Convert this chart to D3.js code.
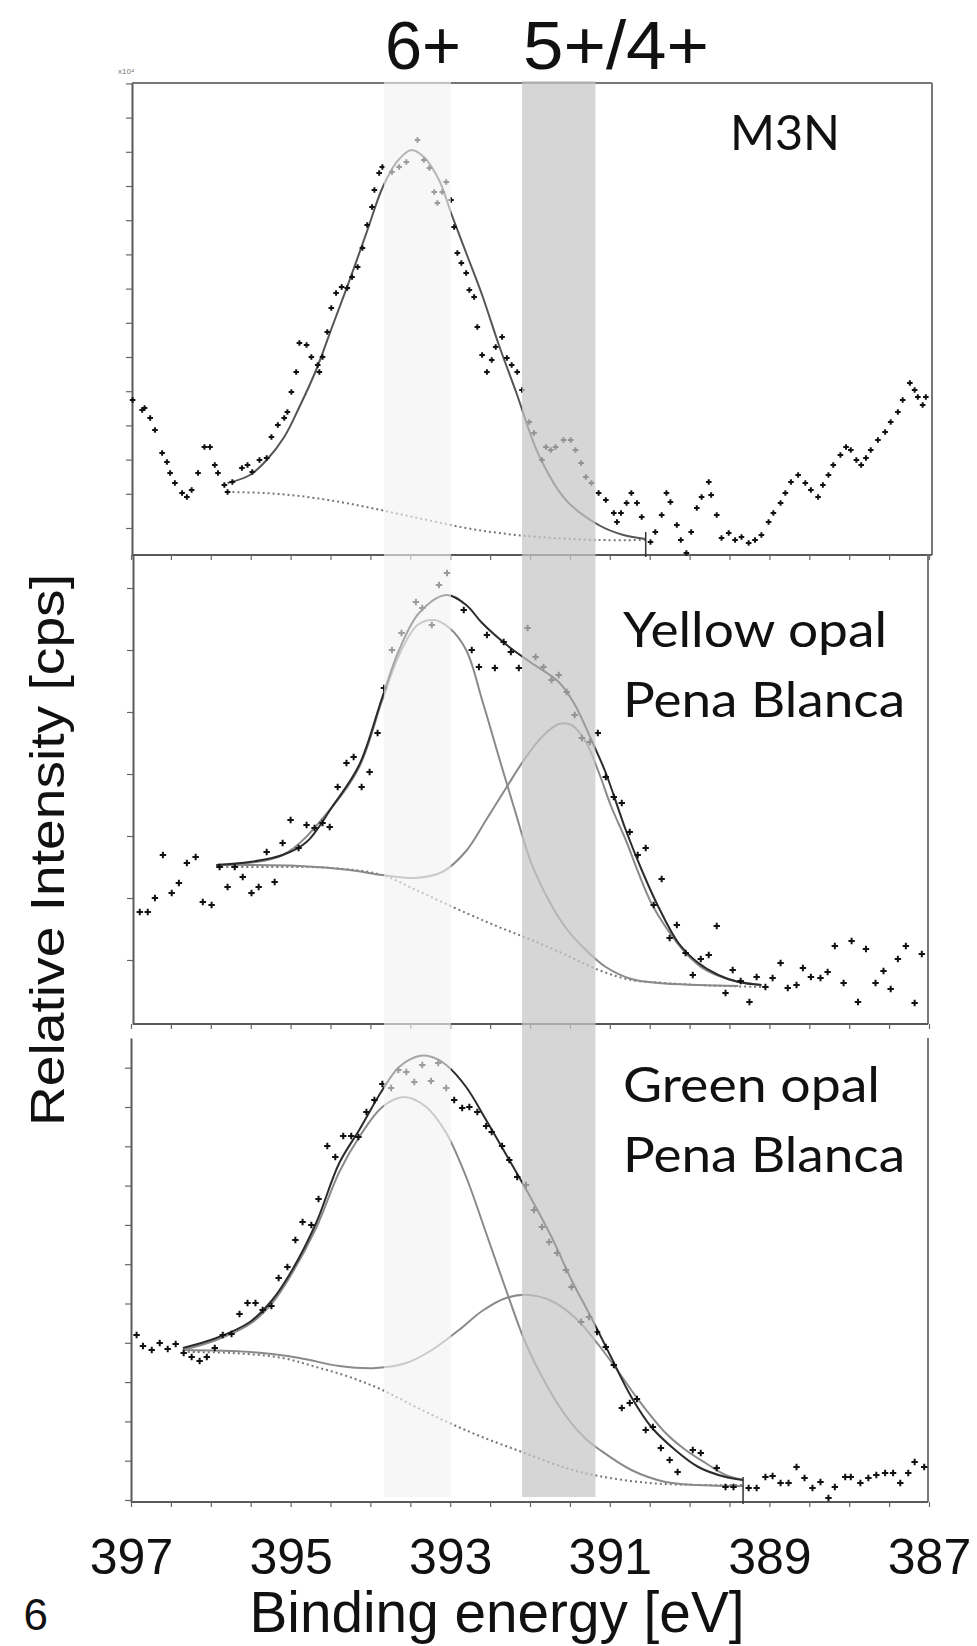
<!DOCTYPE html>
<html>
<head>
<meta charset="utf-8">
<script src="https://cdn.jsdelivr.net/npm/d3@7"></script>
<style>
  html, body { margin: 0; padding: 0; background: #fff; }
  svg { display: block; }
</style>
</head>
<body>
<svg id="chart" width="977" height="1646"></svg>
<script>
;(function() {
  'use strict';

  // ---- Data (binding energy in eV, intensity in arbitrary units x100 cps) ----

  var xTickLabels = [397, 395, 393, 391, 389, 387];

  // Shaded oxidation-state windows [from, to] in eV.
  var bandNames = ['6+', '5+/4+'];
  var bandRanges = [[393.83, 392.99], [392.10, 391.18]];

  var m3nLabel = ['M3N'];
  var yellowLabel = ['Yellow opal', 'Pena Blanca'];
  var greenLabel = ['Green opal', 'Pena Blanca'];

  var m3nPoints = [
    [396.98,15.5],[396.86,14.5],[396.83,14.7],[396.76,13.7],[396.70,12.5],[396.61,10.2],[396.55,9.3],[396.51,8.2],
    [396.45,7.2],[396.36,6.2],[396.30,5.8],[396.24,6.5],[396.16,8.2],[396.08,10.8],[396.01,10.8],[395.95,9.0],
    [395.91,8.2],[395.83,7.0],[395.79,6.3],[395.73,7.3],[395.61,8.7],[395.54,9.0],[395.48,8.3],[395.39,9.5],
    [395.30,9.7],[395.24,11.8],[395.16,13.0],[395.08,13.7],[395.04,14.3],[394.99,16.3],[394.93,18.3],[394.89,21.2],
    [394.80,21.0],[394.74,19.8],[394.66,19.0],[394.64,18.3],[394.60,19.8],[394.54,22.3],[394.49,24.7],[394.43,26.2],
    [394.36,26.8],[394.29,26.7],[394.23,27.8],[394.16,28.8],[394.10,30.7],[394.04,33.0],[393.98,34.8],[393.95,36.5],
    [393.89,38.2],[393.85,38.8],[393.73,38.3],[393.64,38.8],[393.55,39.3],[393.41,41.5],[393.33,39.5],[393.26,38.7],
    [393.20,36.3],[393.16,35.2],[393.10,36.3],[393.05,37.3],[392.99,35.5],[392.95,32.8],[392.91,30.2],[392.86,29.2],
    [392.80,28.2],[392.76,26.5],[392.70,25.8],[392.66,22.8],[392.60,20.0],[392.54,18.3],[392.48,19.5],[392.43,20.8],
    [392.35,21.8],[392.29,19.7],[392.23,19.0],[392.16,18.3],[392.10,16.5],[392.01,13.3],[391.95,12.2],[391.85,9.5],
    [391.80,10.8],[391.74,10.5],[391.68,10.8],[391.58,11.5],[391.49,11.5],[391.43,10.5],[391.36,9.2],[391.30,7.8],
    [391.23,7.2],[391.14,6.2],[391.05,5.5],[390.95,4.2],[390.91,3.3],[390.86,4.2],[390.79,5.2],[390.73,6.2],
    [390.66,5.2],[390.60,3.8],[390.49,1.3],[390.43,2.3],[390.35,4.0],[390.29,6.2],[390.24,5.3],[390.16,3.0],
    [390.11,1.5],[390.04,0.2],[389.98,2.3],[389.91,4.7],[389.85,5.8],[389.76,7.3],[389.73,6.0],[389.66,4.0],
    [389.60,1.7],[389.51,2.2],[389.43,1.5],[389.35,1.8],[389.26,1.2],[389.18,1.5],[389.10,2.0],[389.01,3.3],
    [388.95,4.2],[388.86,5.2],[388.80,6.2],[388.73,7.3],[388.64,8.0],[388.55,7.2],[388.48,6.5],[388.39,5.8],
    [388.33,7.0],[388.26,8.0],[388.20,9.0],[388.11,10.0],[388.04,10.8],[387.98,10.5],[387.91,9.5],[387.85,9.0],
    [387.79,9.7],[387.73,10.5],[387.64,11.5],[387.55,12.3],[387.48,13.3],[387.39,14.3],[387.33,15.5],[387.24,17.2],
    [387.18,16.5],[387.14,15.8],[387.08,15.0],[387.04,15.8]
  ];
  var m3nEnvelope = [
    [395.79,7.2],[395.51,8.0],[395.30,9.5],[395.08,11.8],[394.89,14.8],[394.68,18.5],[394.48,22.8],[394.26,27.5],
    [394.05,32.2],[393.85,36.7],[393.67,39.3],[393.49,40.5],[393.33,39.8],[393.14,37.5],[392.98,34.0],[392.79,30.0],
    [392.60,26.0],[392.39,21.0],[392.17,16.2],[391.89,10.0],[391.55,5.5],[391.14,3.0],[390.83,2.0],[390.55,1.6]
  ];
  var m3nBackground = [
    [395.79,6.3],[395.33,6.2],[394.89,5.9],[394.45,5.4],[394.05,4.8],[393.64,4.1],[393.23,3.4],[392.80,2.7],
    [392.39,2.2],[391.89,1.8],[391.14,1.5],[390.55,1.5]
  ];

  var yellowPoints = [
    [396.89,11.2],[396.79,11.2],[396.70,12.6],[396.60,16.9],[396.49,13.1],[396.40,14.1],[396.30,16.1],[396.19,16.7],
    [396.10,12.2],[395.99,11.9],[395.89,15.7],[395.79,13.7],[395.70,15.7],[395.60,14.7],[395.49,13.1],[395.40,13.7],
    [395.30,17.2],[395.20,14.2],[395.10,18.1],[395.00,20.4],[394.90,17.6],[394.80,19.9],[394.70,19.6],[394.60,20.1],
    [394.51,19.7],[394.41,23.7],[394.30,26.1],[394.21,26.7],[394.11,23.7],[394.01,25.2],[393.91,29.1],[393.83,33.6],
    [393.73,37.4],[393.61,39.1],[393.43,42.2],[393.35,41.6],[393.23,39.9],[393.14,43.9],[393.04,45.1],[392.83,41.4],
    [392.73,37.4],[392.64,35.7],[392.54,38.9],[392.44,35.6],[392.33,38.2],[392.24,37.2],[392.14,35.6],[392.03,39.6],
    [391.93,36.7],[391.83,35.7],[391.73,34.4],[391.64,34.9],[391.54,33.2],[391.44,30.9],[391.35,28.6],[391.25,28.2],
    [391.15,29.1],[391.05,24.7],[390.95,22.7],[390.85,22.1],[390.75,19.2],[390.65,16.9],[390.55,17.6],[390.45,11.9],
    [390.35,14.5],[390.25,8.6],[390.16,9.9],[390.05,7.1],[389.96,4.9],[389.86,6.5],[389.76,6.9],[389.66,9.8],
    [389.55,3.1],[389.46,5.4],[389.36,4.3],[389.25,2.2],[389.16,4.7],[389.05,3.7],[388.96,4.6],[388.86,6.1],
    [388.77,3.6],[388.66,3.9],[388.58,5.6],[388.48,4.7],[388.36,4.6],[388.27,5.2],[388.18,7.8],[388.07,4.1],
    [387.97,8.3],[387.89,2.2],[387.79,7.5],[387.67,4.1],[387.57,5.3],[387.48,3.5],[387.39,6.5],[387.29,7.8],
    [387.18,2.1],[387.09,7.0]
  ];
  var yellowEnvelope = [
    [395.93,15.9],[395.51,16.2],[395.10,16.9],[394.80,18.2],[394.48,21.7],[394.14,25.9],[393.85,32.7],[393.64,37.4],
    [393.39,41.1],[393.05,42.9],[392.80,41.9],[392.60,40.1],[392.26,37.7],[391.98,36.1],[391.64,34.2],[391.45,32.1],
    [391.23,28.4],[391.05,25.1],[390.80,19.4],[390.60,15.4],[390.39,11.7],[390.14,8.1],[389.89,6.1],[389.64,4.9],
    [389.39,4.2],[389.10,3.9]
  ];
  var yellowPeak6 = [
    [395.93,15.9],[395.10,16.9],[394.48,21.7],[394.14,25.7],[393.85,32.4],[393.64,36.9],[393.41,39.9],[393.20,40.4],
    [393.01,39.6],[392.80,37.4],[392.60,32.4],[392.39,26.7],[392.18,21.1],[391.98,16.0],[391.76,12.3],[391.55,9.6],
    [391.30,7.4],[391.05,5.7],[390.73,4.5],[390.39,4.1],[389.89,3.9],[389.39,3.8]
  ];
  var yellowPeak54 = [
    [395.93,15.9],[394.89,15.8],[394.26,15.4],[393.85,14.9],[393.43,14.6],[393.10,15.2],[392.80,17.3],[392.55,20.4],
    [392.30,23.6],[392.05,26.7],[391.85,28.7],[391.64,30.0],[391.48,29.9],[391.30,28.2],[391.14,25.2],[390.98,21.7],
    [390.80,18.4],[390.64,15.1],[390.48,12.1],[390.30,9.7],[390.05,7.1],[389.80,5.4],[389.48,4.4],[389.10,3.9]
  ];
  var yellowBackground = [
    [395.93,15.7],[395.30,15.7],[394.48,15.6],[393.85,14.9],[393.43,13.4],[392.80,11.1],[392.39,9.7],[391.98,8.4],
    [391.55,6.9],[391.14,5.4],[390.73,4.4],[390.30,4.1],[389.89,3.9],[389.10,3.7]
  ];

  var greenPoints = [
    [396.93,16.7],[396.85,15.6],[396.74,15.2],[396.64,15.9],[396.54,15.3],[396.44,15.8],[396.34,14.9],[396.24,14.5],
    [396.14,14.1],[396.05,14.5],[395.95,15.4],[395.85,16.7],[395.74,16.8],[395.64,18.8],[395.54,19.9],[395.44,19.9],
    [395.35,19.2],[395.24,19.6],[395.15,22.4],[395.04,23.5],[394.94,26.2],[394.85,28.0],[394.74,27.7],[394.65,30.3],
    [394.54,35.6],[394.44,34.5],[394.34,36.6],[394.24,36.6],[394.15,36.5],[394.05,39.0],[393.95,40.2],[393.85,41.8],
    [393.74,41.4],[393.65,43.2],[393.55,43.0],[393.45,42.0],[393.35,43.7],[393.24,42.1],[393.15,43.9],[393.05,41.4],
    [392.95,40.2],[392.85,39.4],[392.76,39.5],[392.66,39.0],[392.55,37.6],[392.48,37.0],[392.35,35.6],[392.26,34.2],
    [392.16,32.5],[392.05,31.7],[391.95,29.2],[391.85,27.5],[391.76,26.0],[391.66,24.9],[391.55,23.2],[391.48,21.5],
    [391.36,18.0],[391.26,18.5],[391.16,17.0],[391.05,15.5],[390.95,13.7],[390.85,9.4],[390.75,9.9],[390.66,10.3],
    [390.55,7.2],[390.46,7.5],[390.36,5.4],[390.25,4.2],[390.15,3.0],[389.96,5.2],[389.86,4.9],[389.66,3.4],
    [389.55,1.5],[389.45,1.5],[389.26,1.4],[389.16,1.4],[389.05,2.5],[388.96,2.6],[388.86,1.9],[388.76,1.9],
    [388.66,3.5],[388.56,2.4],[388.46,1.4],[388.36,2.0],[388.26,0.4],[388.18,1.5],[388.05,2.5],[387.98,2.5],
    [387.86,1.9],[387.76,2.4],[387.66,2.7],[387.55,2.9],[387.45,2.9],[387.36,1.9],[387.26,2.9],[387.18,4.0],
    [387.06,3.5]
  ];
  var greenEnvelope = [
    [396.35,15.4],[395.93,16.4],[395.51,18.0],[395.23,20.2],[394.98,23.2],[394.68,27.9],[394.39,33.9],[394.14,37.2],
    [393.85,41.2],[393.64,43.5],[393.39,44.6],[393.23,44.5],[393.05,43.7],[392.80,41.5],[392.55,38.2],[392.26,34.2],
    [392.01,30.7],[391.73,26.5],[391.48,22.2],[391.23,18.4],[391.01,14.9],[390.73,10.5],[390.48,7.5],[390.18,5.2],
    [389.89,3.5],[389.55,2.5],[389.33,2.2]
  ];
  var greenPeak6 = [
    [396.35,15.2],[395.93,16.2],[395.51,17.8],[395.23,19.9],[394.98,22.9],[394.68,27.4],[394.39,33.0],[394.14,36.5],
    [393.85,39.5],[393.58,40.5],[393.30,39.5],[393.05,36.9],[392.80,32.5],[392.55,26.9],[392.30,21.2],[392.05,15.8],
    [391.80,11.8],[391.55,8.6],[391.30,6.3],[391.14,5.3],[390.73,3.2],[390.30,2.0],[389.89,1.7],[389.33,1.6]
  ];
  var greenPeak54 = [
    [396.35,15.2],[395.51,15.0],[394.89,14.4],[394.39,13.6],[393.93,13.4],[393.55,13.9],[393.23,15.2],[392.89,17.2],
    [392.60,19.1],[392.30,20.4],[392.01,20.7],[391.73,20.1],[391.43,18.4],[391.14,15.7],[390.89,13.0],[390.64,10.2],
    [390.30,6.9],[390.05,5.2],[389.80,3.9],[389.55,2.7],[389.33,2.2]
  ];
  var greenBackground = [
    [396.35,15.0],[395.73,14.9],[395.10,14.4],[394.68,13.5],[394.26,12.5],[393.85,11.2],[393.43,9.5],[393.01,7.9],
    [392.60,6.5],[392.10,5.0],[391.55,3.4],[391.14,2.6],[390.51,1.9],[389.89,1.7],[389.33,1.7]
  ];

  // ---- Layout ----

  var svg = d3.select('#chart');
  var x = d3.scaleLinear().domain([397, 387]).range([131, 929]);

  var panels = [
    { top: 83, bottom: 555, left: 132, right: 932, topLine: true, marker: 2.8,
      points: m3nPoints, envelope: m3nEnvelope, peaks: [], background: m3nBackground,
      yTicks: { start: 2.7, step: 3.42, n: 14 }, fitEnd: true,
      label: m3nLabel, labelX: 730, labelY: 150, labelLen: [110] },
    { top: 555, bottom: 1024, left: 133, right: 928, topLine: false, marker: 3.2,
      points: yellowPoints, envelope: yellowEnvelope, peaks: [yellowPeak6, yellowPeak54], background: yellowBackground,
      yTicks: { start: 6.4, step: 6.2, n: 7 }, fitEnd: false,
      label: yellowLabel, labelX: 623, labelY: 647, labelLen: [264, 282] },
    { top: 1038, bottom: 1502, left: 131, right: 928, topLine: false, marker: 3.2,
      points: greenPoints, envelope: greenEnvelope, peaks: [greenPeak6, greenPeak54], background: greenBackground,
      yTicks: { start: 0.2, step: 3.93, n: 12 }, fitEnd: true,
      label: greenLabel, labelX: 623, labelY: 1102, labelLen: [257, 282] }
  ];

  var frameColor = '#5a5a5a';
  var halfSteps = d3.range(387, 397.001, 0.5);

  panels.forEach(function(p) {
    // Intensity scale per panel (no labels on the original, only ticks).
    var y = d3.scaleLinear().domain([0, (p.bottom - p.top) / 10]).range([p.bottom, p.top]);
    var g = svg.append('g');

    // Frame lines.
    g.append('line').attr('x1', p.right).attr('x2', p.right).attr('y1', p.top).attr('y2', p.bottom)
      .attr('stroke', '#777').attr('stroke-width', 2);
    if (p.topLine) {
      g.append('line').attr('x1', p.left).attr('x2', p.right).attr('y1', p.top).attr('y2', p.top)
        .attr('stroke', '#777').attr('stroke-width', 2);
    }

    // Left axis, ticks only.
    var yTickValues = d3.range(p.yTicks.n).map(function(i) { return p.yTicks.start + i * p.yTicks.step; });
    var yAxis = g.append('g')
      .attr('transform', 'translate(' + p.left + ',0)')
      .call(d3.axisLeft(y).tickValues(yTickValues).tickSize(6).tickSizeOuter(0).tickFormat(''));
    yAxis.select('.domain').attr('stroke', frameColor).attr('stroke-width', 2);
    yAxis.selectAll('.tick line').attr('stroke', '#666').attr('stroke-width', 1.2);

    // Bottom axis, ticks every 0.5 eV.
    var xAxis = g.append('g')
      .attr('transform', 'translate(0,' + p.bottom + ')')
      .call(d3.axisBottom(x).tickValues(halfSteps).tickSize(5).tickSizeOuter(0).tickFormat(''));
    xAxis.select('.domain').attr('stroke', frameColor).attr('stroke-width', 2)
      .attr('d', 'M' + p.left + ',0H' + p.right);
    xAxis.selectAll('.tick line').attr('stroke', '#666').attr('stroke-width', 1.2);

    var line = d3.line()
      .x(function(d) { return x(d[0]); })
      .y(function(d) { return y(d[1]); })
      .curve(d3.curveCatmullRom.alpha(0.5));

    // Background (dotted).
    g.append('path').datum(p.background)
      .attr('d', line).attr('fill', 'none')
      .attr('stroke', '#777').attr('stroke-width', 2).attr('stroke-dasharray', '2,3');

    // Component peaks.
    p.peaks.forEach(function(pk) {
      g.append('path').datum(pk)
        .attr('d', line).attr('fill', 'none')
        .attr('stroke', '#8a8a8a').attr('stroke-width', 2);
    });

    // Envelope.
    g.append('path').datum(p.envelope)
      .attr('d', line).attr('fill', 'none')
      .attr('stroke', p.peaks.length ? '#2b2b2b' : '#555').attr('stroke-width', 2);

    // End-of-fit marker.
    if (p.fitEnd) {
      var last = p.background[p.background.length - 1];
      g.append('line')
        .attr('x1', x(last[0])).attr('x2', x(last[0]))
        .attr('y1', y(last[1]) - 8).attr('y2', p.bottom + 2)
        .attr('stroke', '#333').attr('stroke-width', 1.5);
    }

    // Data points as small crosses.
    var s = p.marker;
    g.append('g').selectAll('path')
      .data(p.points)
      .enter().append('path')
      .attr('transform', function(d) { return 'translate(' + x(d[0]) + ',' + y(d[1]) + ')'; })
      .attr('d', 'M' + (-s) + ',0H' + s + 'M0,' + (-s) + 'V' + s)
      .attr('stroke', '#111').attr('stroke-width', 2);
  });

  // Shaded windows, drawn over the data as translucent overlays.
  var bandFills = ['rgba(242,242,242,0.62)', 'rgba(198,198,198,0.72)'];
  svg.append('g').selectAll('rect')
    .data(bandRanges)
    .enter().append('rect')
    .attr('x', function(d) { return x(d[0]); })
    .attr('width', function(d) { return x(d[1]) - x(d[0]); })
    .attr('y', 81)
    .attr('height', 1497 - 81)
    .attr('fill', function(d, i) { return bandFills[i]; });

  // Band titles above the top panel.
  var bandTextLen = [76, 186];
  svg.append('g').selectAll('text')
    .data(bandNames)
    .enter().append('text')
    .attr('x', function(d, i) { return x(bandRanges[i][0]) + 1; })
    .attr('y', 69)
    .attr('font-family', 'Liberation Sans, Arial, sans-serif')
    .attr('font-size', 68)
    .attr('textLength', function(d, i) { return bandTextLen[i]; })
    .attr('lengthAdjust', 'spacingAndGlyphs')
    .attr('fill', '#111')
    .text(function(d) { return d; });

  // Sample labels inside panels.
  panels.forEach(function(p) {
    p.label.forEach(function(t, i) {
      svg.append('text')
        .attr('x', p.labelX)
        .attr('y', p.labelY + i * 70)
        .attr('font-family', 'Lato, Noto Sans, sans-serif')
        .attr('font-size', 49)
        .attr('textLength', p.labelLen[i])
        .attr('lengthAdjust', 'spacingAndGlyphs')
        .attr('fill', '#111')
        .text(t);
    });
  });

  // Tiny exponent note at the top-left corner of the first panel.
  svg.append('text')
    .attr('x', 118).attr('y', 74)
    .attr('font-family', 'Liberation Sans, Arial, sans-serif')
    .attr('font-size', 8).attr('fill', '#777')
    .text('x10\u2074');

  // Energy tick labels under the bottom panel.
  var labelAxis = svg.append('g')
    .attr('transform', 'translate(0,' + panels[2].bottom + ')')
    .call(d3.axisBottom(x).tickValues(xTickLabels).tickSize(0).tickPadding(36).tickFormat(d3.format('d')));
  labelAxis.select('.domain').remove();
  labelAxis.selectAll('text')
    .attr('font-family', 'Liberation Sans, Arial, sans-serif')
    .attr('font-size', 50)
    .attr('fill', '#111');

  // Axis titles.
  svg.append('text')
    .attr('x', 497).attr('y', 1632)
    .attr('text-anchor', 'middle')
    .attr('font-family', 'Liberation Sans, Arial, sans-serif')
    .attr('font-size', 58)
    .attr('textLength', 495)
    .attr('lengthAdjust', 'spacingAndGlyphs')
    .attr('fill', '#111')
    .text('Binding energy [eV]');

  svg.append('text')
    .attr('transform', 'translate(64,850) rotate(-90)')
    .attr('text-anchor', 'middle')
    .attr('font-family', 'Liberation Sans, Arial, sans-serif')
    .attr('font-size', 48)
    .attr('textLength', 552)
    .attr('lengthAdjust', 'spacingAndGlyphs')
    .attr('fill', '#111')
    .text('Relative Intensity [cps]');

  // Figure number visible at the lower-left edge.
  svg.append('text')
    .attr('x', 48).attr('y', 1630)
    .attr('text-anchor', 'end')
    .attr('font-family', 'Liberation Sans, Arial, sans-serif')
    .attr('font-size', 44)
    .attr('fill', '#111')
    .text('6');

}());
</script>
</body>
</html>
